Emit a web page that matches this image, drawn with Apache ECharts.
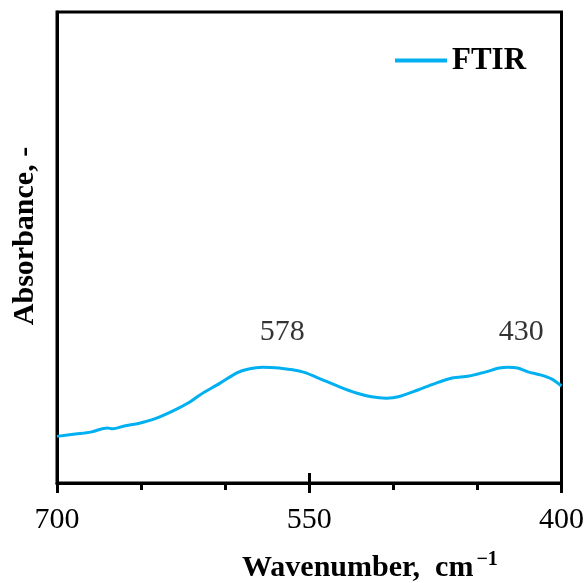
<!DOCTYPE html>
<html><head><meta charset="utf-8">
<script src="https://cdn.jsdelivr.net/npm/echarts@6/dist/echarts.min.js"></script>
<style>html,body{margin:0;padding:0;background:#fff}#c{width:587px;height:583px}</style>
</head><body><div id="c"></div>
<script>
const wavenumber = [700, 689, 680, 670, 667, 660, 651, 642, 631, 621, 615, 603, 593, 586, 578, 568, 554, 546, 532, 522, 513, 504, 497, 485, 473, 465, 455, 445, 437, 432, 426, 420, 412, 406, 400];
const absorbance = [9.9, 10.4, 10.8, 11.7, 11.5, 12.1, 12.7, 13.6, 15.3, 17.2, 18.7, 21.2, 23.4, 24.2, 24.6, 24.4, 23.6, 22.5, 20.4, 19.1, 18.3, 18.0, 18.3, 19.8, 21.4, 22.3, 22.7, 23.6, 24.4, 24.6, 24.4, 23.6, 22.9, 22.1, 20.6];
const peakLabels = ['578', '430'];
const peakLabelX = [566, 424];
const peakLabelY = [32, 32];
const xTicks = [700, 550, 400];

const FONT = '"Liberation Serif", "Times New Roman", serif';
const chart = echarts.init(document.getElementById('c'), null, {renderer: 'canvas'});
const seriesData = wavenumber.map((w, i) => [w, absorbance[i]]);
const labelData = peakLabels.map((t, i) => ({name: t, value: [peakLabelX[i], peakLabelY[i]]}));

chart.setOption({
  animation: false,
  backgroundColor: '#fff',
  grid: {left: 57, right: 24, top: 12, bottom: 100, show: true, borderColor: '#000', borderWidth: 3, backgroundColor: 'transparent'},
  legend: {
    left: 390, top: 40, itemWidth: 52, itemHeight: 4, icon: 'rect',
    data: [{name: 'FTIR', itemStyle: {color: '#00B0F0'}}],
    textStyle: {fontFamily: FONT, fontWeight: 'bold', fontSize: 31, color: '#000'}
  },
  xAxis: [{
    type: 'value', min: 400, max: 700, interval: 150, inverse: true,
    axisLine: {lineStyle: {color: '#000', width: 3}},
    axisTick: {length: 10, lineStyle: {color: '#000', width: 3}},
    minorTick: {show: true, splitNumber: 3, length: 7, lineStyle: {color: '#000', width: 3}},
    splitLine: {show: false},
    axisLabel: {margin: 22, fontFamily: FONT, fontSize: 30, color: '#000',
      formatter: v => xTicks.includes(v) ? String(v) : ''}
  }, {
    type: 'value', min: 400, max: 700, interval: 150, inverse: true, position: 'bottom',
    axisLine: {show: false},
    axisTick: {inside: true, length: 10, lineStyle: {color: '#000', width: 3}},
    axisLabel: {show: false}, splitLine: {show: false}
  }],
  yAxis: {
    type: 'value', min: 0, max: 100,
    axisLine: {show: true, lineStyle: {color: '#000', width: 3}},
    axisTick: {show: false}, axisLabel: {show: false}, splitLine: {show: false}
  },
  series: [{
    name: 'FTIR', type: 'line', data: seriesData, smooth: 0.3, showSymbol: false,
    lineStyle: {color: '#00B0F0', width: 3}, itemStyle: {color: '#00B0F0'}
  }, {
    name: 'peaks', type: 'scatter', data: labelData, symbolSize: 0, silent: true,
    label: {show: true, position: 'inside', formatter: p => p.name, fontFamily: FONT, fontSize: 30, color: '#000'}
  }],
  graphic: [{
    type: 'text', left: 242, top: 550,
    style: {
      text: 'Wavenumber,  cm{sup|\u22121}',
      font: 'bold 30px ' + FONT, fill: '#000',
      rich: {sup: {font: 'bold 20px ' + FONT, fill: '#000', verticalAlign: 'top', padding: [0, 0, 16, 3]}}
    }
  }, {
    type: 'text', x: 10, y: 236, rotation: Math.PI / 2,
    style: {text: 'Absorbance, -', font: 'bold 30px ' + FONT, fill: '#000', align: 'center', verticalAlign: 'top'}
  }]
});
</script></body></html>
